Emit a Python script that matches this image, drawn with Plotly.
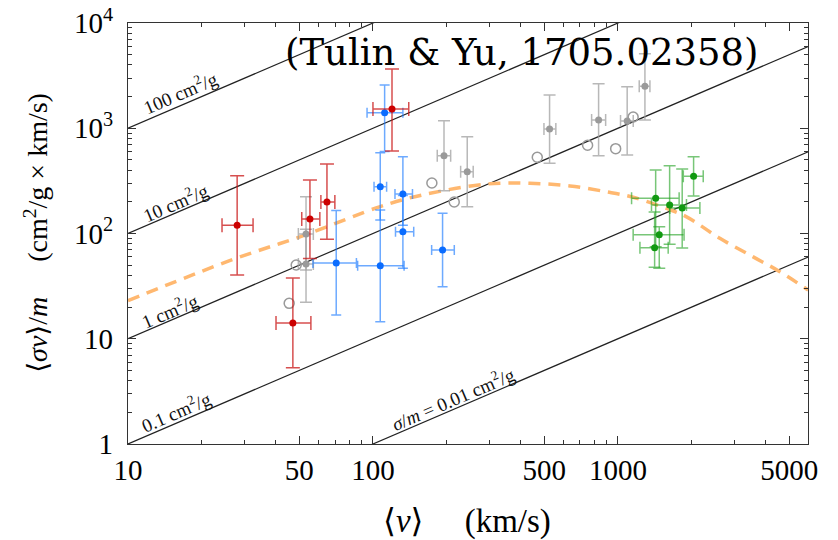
import plotly.graph_objects as go

# ---------------- data ----------------
# red (dwarfs)
red_v    = [27.9, 55.3, 64.9, 119.6, 47.1]
red_y    = [120, 137, 199, 1524, 14.1]
red_vlo  = [24.2, 51.2, 61.3, 100, 40.2]
red_vhi  = [32.4, 60.7, 69.9, 140, 55.8]
red_ylo  = [40.3, 58, 88, 608, 5.3]
red_yhi  = [354, 322, 457, 3656, 37.8]

# blue (LSB galaxies)
blue_v   = [111.6, 107.1, 107.1, 70.8, 132.5, 132.5, 192.4]
blue_y   = [1406, 278.5, 49.4, 52.5, 237, 104, 69.7]
blue_vlo = [94.6, 101, 86.6, 56.9, 123, 123.6, 173.6]
blue_vhi = [132.5, 113.7, 134, 85.6, 145, 146.7, 214.8]
blue_ylo = [600, 134, 14.5, 16.8, 120, 46.7, 31.2]
blue_yhi = [2570, 586, 167, 165, 537, 230, 155.6]

# gray filled
gray_v   = [53.3, 53.3, 195, 242.6, 526, 834, 1091, 1289]
gray_y   = [98.9, 51.3, 548, 386, 984, 1198, 1172, 2505]
gray_vlo = [49.6, 49.6, 183, 228, 499, 781, 1025, 1222]
gray_vhi = [57.1, 57.1, 207.6, 256.6, 558, 891, 1155, 1351]
gray_ylo = [45, 22.2, 255, 180, 465, 548, 557, 1198]
gray_yhi = [224, 110, 1180, 831, 2070, 2650, 2480, 5100]

# gray open circles
open_v = [45.5, 48.6, 174, 214.7, 468.6, 752, 979, 1154]
open_y = [21.7, 50.2, 302, 199, 530, 689, 640, 1279]

# green (clusters)
green_v   = [1426, 1626, 1830, 2037, 1475, 1412]
green_y   = [216, 186.6, 175, 349, 97.5, 73.3]
green_vlo = [1137, 1371, 1629, 1849, 1154, 1230]
green_vhi = [1778, 1905, 2161, 2230, 1862, 1604]
green_ylo = [75, 79, 73, 227, 46.7, 47.7]
green_yhi = [401, 441, 410, 537, 116, 160]

# orange dashed fit curve
curve_v = [10, 27, 53, 107, 156, 291, 437, 637, 899, 1154, 1580, 1907, 2606, 3565, 4580, 5980]
curve_y = [23, 57, 97, 180, 230, 295, 300, 283, 249, 221, 173, 144, 90, 60, 43.4, 29]

# constant sigma/m lines
sigma_m = [100, 10, 1, 0.1, 0.01]
line_v = [10, 6000]
line_labels = ["100 cm<sup>2</sup>/g", "10 cm<sup>2</sup>/g", "1 cm<sup>2</sup>/g",
               "0.1 cm<sup>2</sup>/g", "<i>σ</i>/<i>m</i> = 0.01 cm<sup>2</sup>/g"]
label_logv = [1.212, 1.192, 1.171, 1.196, 2.327]
label_logy = [3.344, 2.299, 1.273, 0.314, 0.437]

x_ticks = [10, 50, 100, 500, 1000, 5000]
x_ticktext = ["10", "50", "100", "500", "1000", "5000"]
y_ticks = [1, 10, 100, 1000, 10000]
y_ticktext = ["1", "10", "10<sup>2</sup>", "10<sup>3</sup>", "10<sup>4</sup>"]

FONT = "Liberation Serif, Times New Roman, DejaVu Serif, serif"

fig = go.Figure()

for s in sigma_m:
    fig.add_trace(go.Scatter(x=line_v, y=[s * v for v in line_v], mode="lines",
                             line=dict(color="#222222", width=1.2), showlegend=False,
                             hoverinfo="skip"))

fig.add_trace(go.Scatter(x=curve_v, y=curve_y, mode="lines", line_shape="spline",
                         line=dict(color="#ffb870", width=3.5, dash="12px,8px"),
                         showlegend=False))


def err_trace(v, y, vlo, vhi, ylo, yhi, mcolor, ecolor, w):
    return go.Scatter(
        x=v, y=y, mode="markers",
        marker=dict(color=mcolor, size=7),
        error_x=dict(type="data", symmetric=False,
                     array=[h - c for h, c in zip(vhi, v)],
                     arrayminus=[c - l for l, c in zip(vlo, v)],
                     color=ecolor, thickness=1.5, width=w),
        error_y=dict(type="data", symmetric=False,
                     array=[h - c for h, c in zip(yhi, y)],
                     arrayminus=[c - l for l, c in zip(ylo, y)],
                     color=ecolor, thickness=1.5, width=w),
        showlegend=False)


fig.add_trace(err_trace(gray_v, gray_y, gray_vlo, gray_vhi, gray_ylo, gray_yhi,
                        "#9a9a9a", "rgba(160,160,160,0.75)", 6))
fig.add_trace(go.Scatter(x=open_v, y=open_y, mode="markers",
                         marker=dict(symbol="circle-open", size=10, color="#999999",
                                     line=dict(width=1.5, color="#999999")),
                         showlegend=False))
fig.add_trace(err_trace(blue_v, blue_y, blue_vlo, blue_vhi, blue_ylo, blue_yhi,
                        "#0a6cff", "rgba(30,125,255,0.65)", 5))
fig.add_trace(err_trace(red_v, red_y, red_vlo, red_vhi, red_ylo, red_yhi,
                        "#cc0000", "rgba(200,20,20,0.75)", 7))
fig.add_trace(err_trace(green_v, green_y, green_vlo, green_vhi, green_ylo, green_yhi,
                        "#119911", "rgba(30,160,30,0.6)", 6))

for txt, lx, ly in zip(line_labels, label_logv, label_logy):
    fig.add_annotation(x=lx, y=ly, xref="x", yref="y", text=txt, showarrow=False,
                       textangle=-23.2, font=dict(family=FONT, size=19, color="#111111"))

fig.add_annotation(x=0.579, y=0.929, xref="paper", yref="paper",
                   xanchor="center", yanchor="middle",
                   text="(Tulin &amp; Yu, 1705.02358)", showarrow=False,
                   font=dict(family="DejaVu Serif, serif", size=37, color="black"))

# axis titles
fig.add_annotation(x=0.498, y=-0.185, xref="paper", yref="paper",
                   xanchor="center", yanchor="middle",
                   text="⟨<i>v</i>⟩\u2003 (km/s)", showarrow=False,
                   font=dict(family=FONT, size=33, color="black"))
fig.add_annotation(x=-0.135, y=0.502, xref="paper", yref="paper", textangle=-90,
                   xanchor="center", yanchor="middle",
                   text="⟨<i>σv</i>⟩/<i>m</i>\u2003 (cm<sup>2</sup>/g × km/s)", showarrow=False,
                   font=dict(family=FONT, size=28, color="black"))

minor_x = [m * 10 ** d for d in range(1, 4) for m in range(2, 10)
           if m * 10 ** d not in x_ticks]
minor_y = [m * 10 ** d for d in range(0, 4) for m in range(2, 10)]

fig.update_xaxes(type="log", range=[1, 3.776], tickvals=x_ticks, ticktext=x_ticktext,
                 automargin=False, ticklabeloverflow="allow",
                 ticks="inside", ticklen=8, tickwidth=1, tickcolor="#333",
                 showline=True, linecolor="#333", linewidth=1.2, mirror="allticks",
                 showgrid=False, zeroline=False,
                 tickfont=dict(family=FONT, size=29, color="black"),
                 ticklabelstandoff=0,
                 minor=dict(tickvals=minor_x, ticks="inside", ticklen=4,
                            tickcolor="#333", showgrid=False))
fig.update_yaxes(type="log", range=[0, 4], tickvals=y_ticks, ticktext=y_ticktext,
                 automargin=False, ticklabeloverflow="allow",
                 ticks="inside", ticklen=8, tickwidth=1, tickcolor="#333",
                 showline=True, linecolor="#333", linewidth=1.2, mirror="allticks",
                 showgrid=False, zeroline=False,
                 tickfont=dict(family=FONT, size=29, color="black"),
                 ticklabelstandoff=8,
                 minor=dict(tickvals=minor_y, ticks="inside", ticklen=4,
                            tickcolor="#333", showgrid=False))

# page body has an 8px margin; the figure div starts at (8, 8) in the window
fig.update_layout(width=830, height=532, margin=dict(l=120, r=30, t=15, b=96),
                  plot_bgcolor="white", paper_bgcolor="white", showlegend=False)

fig.write_html("out.html")
